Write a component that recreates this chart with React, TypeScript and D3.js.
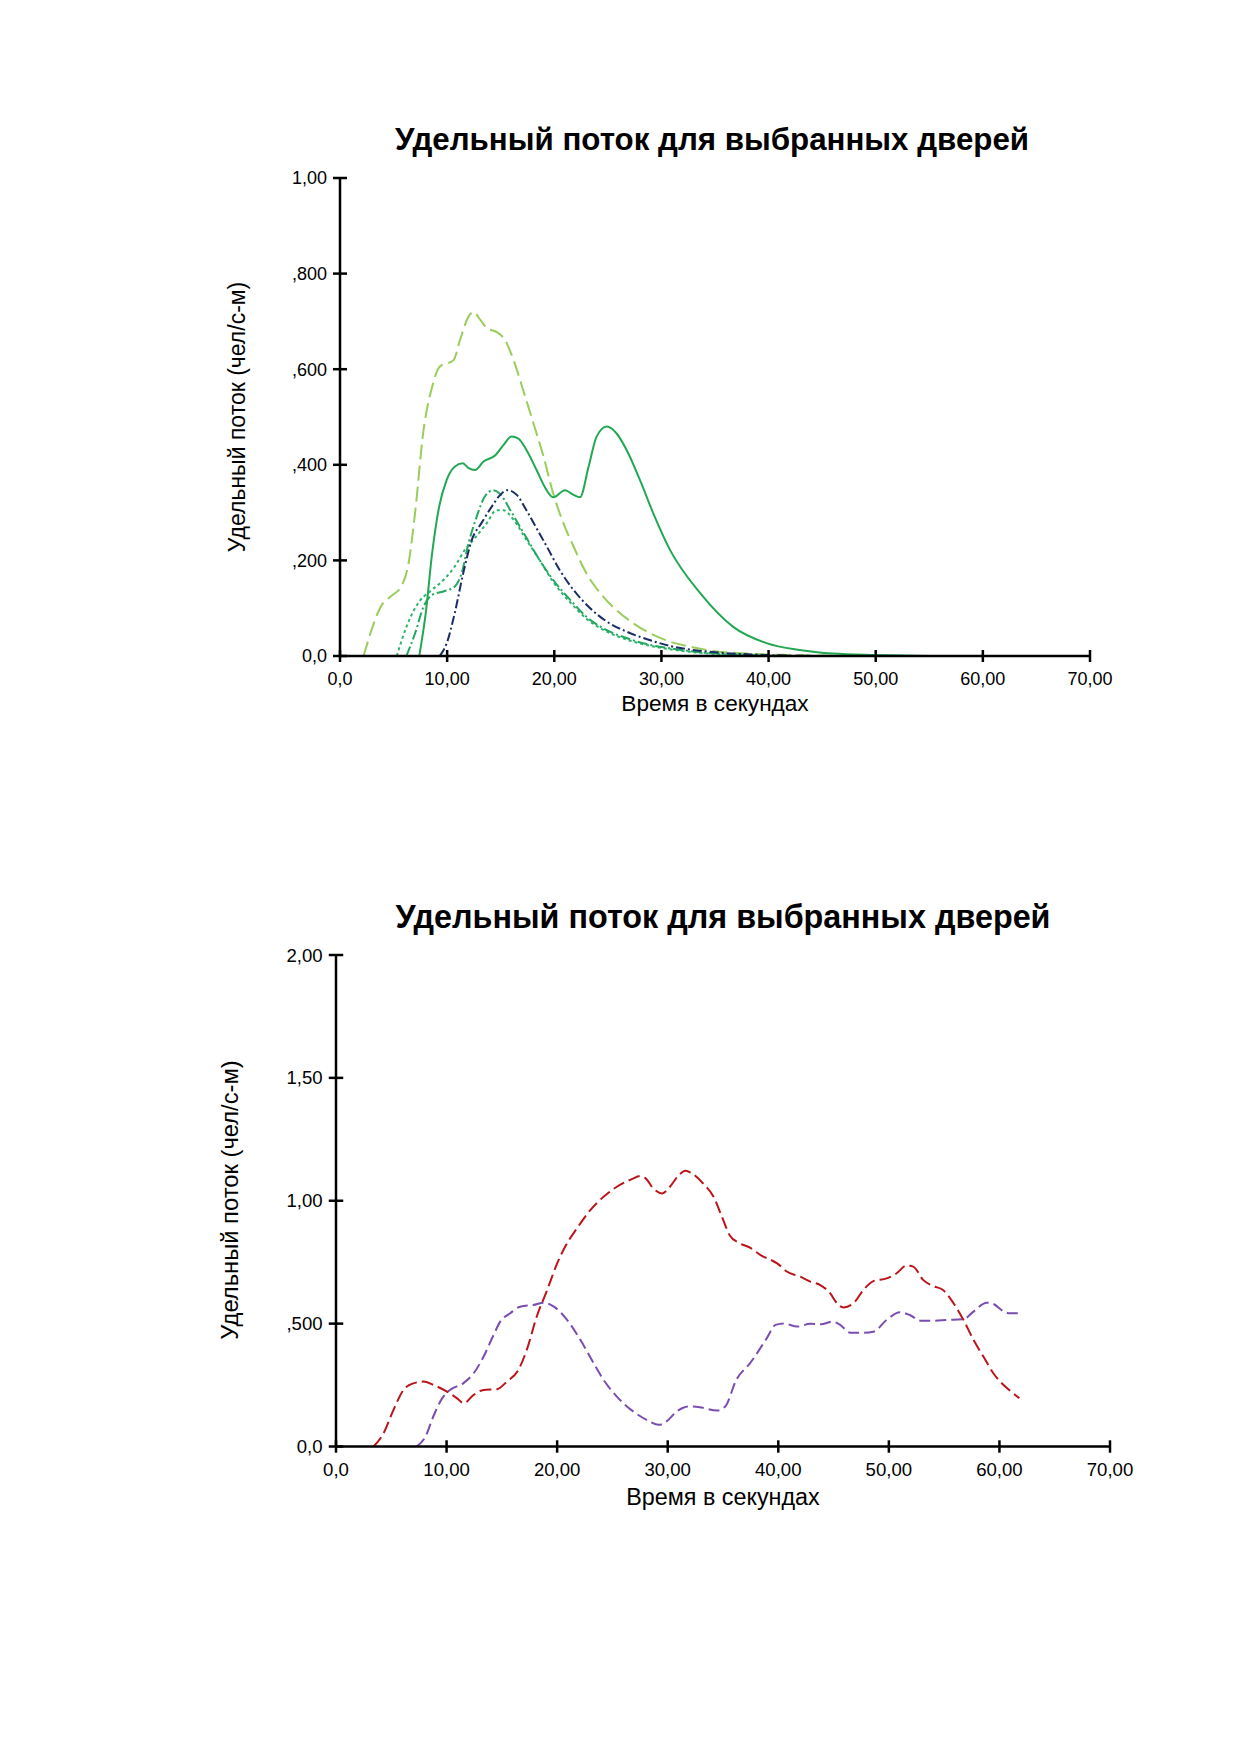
import React from "react";
import * as d3 from "d3";

type Pt = [number, number];

// ---------- Top chart data ----------
const topXTicks = [0, 10, 20, 30, 40, 50, 60, 70];
const topXTickLabels = ["0,0", "10,00", "20,00", "30,00", "40,00", "50,00", "60,00", "70,00"];
const topYTicks = [0, 0.2, 0.4, 0.6, 0.8, 1.0];
const topYTickLabels = ["0,0", ",200", ",400", ",600", ",800", "1,00"];

const lightGreenDashed: Pt[] = [
  [2.2, 0], [4.0, 0.11], [4.7, 0.124], [5.8, 0.149], [6.4, 0.194], [7.0, 0.298], [7.8, 0.473],
  [8.6, 0.563], [9.3, 0.605], [10.6, 0.619], [11.2, 0.661], [12.0, 0.71], [12.45, 0.72],
  [13.1, 0.703], [13.7, 0.686], [14.6, 0.678], [15.4, 0.661], [16.2, 0.619], [17.1, 0.556],
  [18.05, 0.487], [19.0, 0.417], [19.9, 0.34], [20.85, 0.278], [21.8, 0.229], [23.0, 0.173],
  [24.3, 0.131], [25.8, 0.096], [27.4, 0.068], [29.25, 0.044], [30.8, 0.03], [33, 0.018],
  [35, 0.01], [38, 0.005], [42, 0.002], [47, 0],
];

const solidGreen: Pt[] = [
  [7.4, 0], [8.0, 0.089], [8.6, 0.215], [9.25, 0.312], [9.95, 0.368], [10.7, 0.396], [11.45, 0.403],
  [12.0, 0.393], [12.6, 0.389], [13.4, 0.407], [14.5, 0.42], [15.25, 0.441], [16.0, 0.459],
  [16.65, 0.455], [17.4, 0.431], [18.35, 0.389], [19.1, 0.354], [19.9, 0.332], [21.0, 0.347],
  [21.8, 0.337], [22.4, 0.332], [23.2, 0.396], [23.95, 0.459], [24.9, 0.48], [25.8, 0.466],
  [26.75, 0.431], [28.0, 0.368], [29.25, 0.298], [30.8, 0.222], [33.6, 0.132], [36.7, 0.061],
  [39.8, 0.027], [42.9, 0.0125], [46, 0.005], [50, 0.002], [55, 0],
];

const greenDashDot: Pt[] = [
  [6.2, 0], [7.0, 0.047], [7.8, 0.103], [8.6, 0.128], [9.65, 0.135], [10.7, 0.145], [11.35, 0.173],
  [12.0, 0.236], [12.75, 0.291], [13.5, 0.333], [14.3, 0.347], [14.9, 0.34], [15.9, 0.305],
  [16.8, 0.27], [17.7, 0.236], [18.65, 0.2], [19.9, 0.159], [21.5, 0.117], [23.0, 0.082],
  [24.9, 0.054], [26.8, 0.037], [28.6, 0.025], [30.8, 0.016], [34, 0.007], [38, 0.002], [42, 0],
];

const greenDotted: Pt[] = [
  [5.3, 0], [6.2, 0.061], [7.5, 0.117], [8.4, 0.135], [9.65, 0.159], [10.7, 0.187], [11.65, 0.222],
  [12.45, 0.243], [13.7, 0.278], [14.6, 0.305], [15.25, 0.305], [16.2, 0.285], [17.4, 0.243],
  [18.65, 0.2], [19.9, 0.155], [21.5, 0.112], [23.0, 0.078], [24.9, 0.051], [26.8, 0.034],
  [28.6, 0.023], [30.8, 0.014], [34, 0.006], [38, 0.002], [42, 0],
];

const navyDashDot: Pt[] = [
  [9.3, 0], [9.95, 0.026], [10.7, 0.089], [11.5, 0.173], [12.3, 0.243], [13.2, 0.278], [14.15, 0.312],
  [14.95, 0.337], [15.6, 0.347], [16.5, 0.337], [17.4, 0.305], [18.35, 0.267], [19.3, 0.229],
  [20.5, 0.18], [21.8, 0.138], [23.35, 0.1], [24.9, 0.072], [26.75, 0.051], [28.95, 0.033],
  [30.8, 0.021], [35, 0.008], [40, 0.002], [45, 0],
];

// ---------- Bottom chart data ----------
const botXTicks = [0, 10, 20, 30, 40, 50, 60, 70];
const botXTickLabels = ["0,0", "10,00", "20,00", "30,00", "40,00", "50,00", "60,00", "70,00"];
const botYTicks = [0, 0.5, 1.0, 1.5, 2.0];
const botYTickLabels = ["0,0", ",500", "1,00", "1,50", "2,00"];

const redDashed: Pt[] = [
  [3.4, 0], [4.3, 0.054], [5.2, 0.149], [6.1, 0.23], [7.0, 0.257], [7.9, 0.264], [8.8, 0.251],
  [10.0, 0.224], [10.95, 0.196], [11.55, 0.176], [12.45, 0.21], [13.35, 0.23], [14.55, 0.233],
  [15.45, 0.264], [16.5, 0.312], [17.25, 0.393], [18.15, 0.528], [19.1, 0.637], [20.0, 0.745],
  [20.9, 0.827], [21.8, 0.888], [23.0, 0.962], [24.2, 1.016], [25.4, 1.057], [26.9, 1.091],
  [27.4, 1.1], [28.0, 1.091], [28.7, 1.05], [29.5, 1.03], [30.2, 1.057], [31.0, 1.104],
  [31.6, 1.122], [32.2, 1.111], [33.2, 1.07], [34.15, 1.016], [34.9, 0.935], [35.6, 0.86],
  [36.5, 0.827], [37.4, 0.81], [38.4, 0.779], [39.9, 0.745], [40.8, 0.711], [42.0, 0.691],
  [42.9, 0.671], [43.8, 0.657], [44.7, 0.623], [45.3, 0.583], [45.9, 0.566], [46.8, 0.583],
  [47.7, 0.637], [48.6, 0.673], [49.8, 0.684], [50.7, 0.705], [51.6, 0.736], [52.2, 0.732],
  [53.1, 0.678], [54.0, 0.653], [54.9, 0.637], [55.85, 0.583], [56.75, 0.515], [57.65, 0.434],
  [58.55, 0.366], [59.45, 0.298], [60.35, 0.251], [61.25, 0.217], [61.8, 0.196],
];

const purpleDashed: Pt[] = [
  [7.3, 0], [8.1, 0.041], [8.8, 0.122], [9.6, 0.196], [10.3, 0.23], [11.5, 0.257], [12.45, 0.298],
  [13.35, 0.366], [14.25, 0.454], [14.85, 0.508], [15.75, 0.542], [16.65, 0.569], [17.85, 0.576],
  [18.8, 0.585], [19.7, 0.569], [20.9, 0.515], [22.1, 0.434], [23.3, 0.339], [24.2, 0.271],
  [25.4, 0.203], [26.9, 0.142], [28.1, 0.108], [29.2, 0.088], [29.9, 0.102], [30.8, 0.142],
  [31.9, 0.163], [32.9, 0.16], [34.45, 0.146], [35.2, 0.163], [36.2, 0.271], [37.45, 0.339],
  [38.95, 0.44], [39.75, 0.495], [40.5, 0.501], [41.7, 0.488], [42.9, 0.499], [43.85, 0.497],
  [44.9, 0.508], [45.6, 0.495], [46.5, 0.463], [47.7, 0.463], [48.6, 0.467], [49.8, 0.515],
  [51.0, 0.546], [51.9, 0.535], [52.85, 0.512], [54.0, 0.512], [55.25, 0.515], [56.75, 0.518],
  [57.65, 0.549], [58.85, 0.585], [59.45, 0.58], [60.35, 0.551], [60.95, 0.542], [61.8, 0.542],
];

const TITLE = "Удельный поток для выбранных дверей";
const Y_LABEL = "Удельный поток (чел/с-м)";
const X_LABEL = "Время в секундах";

type Series = { data: Pt[]; color: string; dash?: string };

type PanelProps = {
  x0: number; x1: number; y0: number; y1: number;
  yMax: number;
  xTicks: number[]; xTickLabels: string[];
  yTicks: number[]; yTickLabels: string[];
  series: Series[];
  scale: number;
  titleX: number; titleY: number;
  yLabelX: number; yLabelY: number;
  xLabelY: number;
};

const FONT = "'Liberation Sans', Arial, Helvetica, sans-serif";

function Panel(p: PanelProps) {
  const x = d3.scaleLinear().domain([0, 70]).range([p.x0, p.x1]);
  const y = d3.scaleLinear().domain([0, p.yMax]).range([p.y0, p.y1]);
  const line = d3
    .line<Pt>()
    .x((d) => x(d[0]))
    .y((d) => y(d[1]))
    .curve(d3.curveMonotoneX);
  const s = p.scale;
  const tickLen = 7 * s;
  return (
    <g>
      <text x={p.titleX} y={p.titleY} textAnchor="middle" fontFamily={FONT} fontWeight="bold" fontSize={31.3 * s} fill="#000">
        {TITLE}
      </text>
      {p.series.map((se, i) => (
        <path key={i} d={line(se.data) || ""} fill="none" stroke={se.color} strokeWidth={2} strokeDasharray={se.dash} strokeLinejoin="round" />
      ))}
      <line x1={p.x0} x2={p.x0} y1={p.y1} y2={p.y0} stroke="#000" strokeWidth={2.5} />
      <line x1={p.x0} x2={p.x1} y1={p.y0} y2={p.y0} stroke="#000" strokeWidth={2.5} />
      {p.yTicks.map((t, i) => (
        <g key={"y" + i}>
          <line x1={p.x0 - tickLen} x2={p.x0 + tickLen} y1={y(t)} y2={y(t)} stroke="#000" strokeWidth={2.5} />
          <text x={p.x0 - 13 * s} y={y(t)} dy="0.35em" textAnchor="end" fontFamily={FONT} fontSize={18 * s} fill="#000">
            {p.yTickLabels[i]}
          </text>
        </g>
      ))}
      {p.xTicks.map((t, i) => (
        <g key={"x" + i}>
          <line x1={x(t)} x2={x(t)} y1={p.y0 - 6 * s} y2={p.y0 + 6 * s} stroke="#000" strokeWidth={2.5} />
          <text x={x(t)} y={p.y0 + 29 * s} textAnchor="middle" fontFamily={FONT} fontSize={18 * s} fill="#000">
            {p.xTickLabels[i]}
          </text>
        </g>
      ))}
      <text x={(p.x0 + p.x1) / 2} y={p.xLabelY} textAnchor="middle" fontFamily={FONT} fontSize={22.6 * s} fill="#000">
        {X_LABEL}
      </text>
      <text
        transform={`translate(${p.yLabelX},${p.yLabelY}) rotate(-90)`}
        textAnchor="middle"
        fontFamily={FONT}
        fontSize={23 * s}
        fill="#000"
      >
        {Y_LABEL}
      </text>
    </g>
  );
}

export default function App() {
  const topSeries: Series[] = [
    { data: lightGreenDashed, color: "#9acd5a", dash: "15 6" },
    { data: greenDotted, color: "#2db56b", dash: "3 3" },
    { data: greenDashDot, color: "#22a860", dash: "10 3 2 3" },
    { data: navyDashDot, color: "#1b2d66", dash: "9 3 2 3" },
    { data: solidGreen, color: "#22a852" },
  ];
  const botSeries: Series[] = [
    { data: purpleDashed, color: "#7a4db0", dash: "11 5" },
    { data: redDashed, color: "#bb1419", dash: "12 5" },
  ];
  return (
    <svg
      width={1239}
      height={1752}
      viewBox="0 0 1239 1752"
      style={{ position: "absolute", left: 0, top: 0, background: "#fff" }}
    >
      <rect x={0} y={0} width={1239} height={1752} fill="#fff" />
      <Panel
        x0={340} x1={1090} y0={656} y1={178} yMax={1}
        xTicks={topXTicks} xTickLabels={topXTickLabels}
        yTicks={topYTicks} yTickLabels={topYTickLabels}
        series={topSeries} scale={1}
        titleX={712} titleY={150}
        yLabelX={245} yLabelY={417}
        xLabelY={711}
      />
      <Panel
        x0={336} x1={1110} y0={1446.5} y1={955} yMax={2}
        xTicks={botXTicks} xTickLabels={botXTickLabels}
        yTicks={botYTicks} yTickLabels={botYTickLabels}
        series={botSeries} scale={1.033}
        titleX={723} titleY={928}
        yLabelX={238} yLabelY={1200}
        xLabelY={1505}
      />
    </svg>
  );
}
